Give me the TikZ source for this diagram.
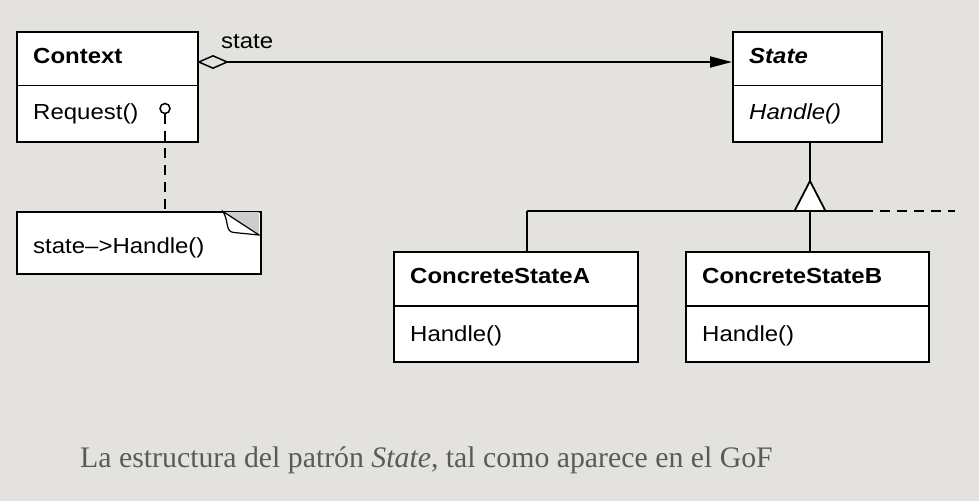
\documentclass[tikz,border=0pt]{standalone}
\usepackage{fontspec}
\usetikzlibrary{arrows.meta,calc}
\newfontfamily\umlfont{Liberation Sans}[FakeStretch=1.1]
\newfontfamily\capfont{Liberation Serif}
\definecolor{bgc}{RGB}{227,226,222}
\definecolor{capc}{RGB}{90,90,90}
\definecolor{foldc}{RGB}{205,205,205}
\begin{document}
\begin{tikzpicture}[x=1pt,y=-1pt,
  umlbox/.style={draw,line width=1.8pt,fill=white,anchor=north west,inner sep=0pt},
  umltext/.style={anchor=base west,inner sep=0pt,font=\umlfont\fontsize{21.8}{25}\selectfont},
  conn/.style={line width=1.8pt},
  dashconn/.style={line width=1.8pt,dash pattern=on 10pt off 7pt}]
\fill[bgc] (0,0) rectangle (979,501);
\useasboundingbox (0,0) rectangle (979,501);

% Context
\node[umlbox,minimum width=181pt,minimum height=110pt] (ctx) at (16,31) {};
\draw[conn] (16,85.5) -- (197,85.5);
\node[umltext] (ctxname) at (33,63) {\bfseries Context};
\node[umltext] (ctxop) at (33,119) {Request()};
\node[circle,draw,line width=1.5pt,minimum size=10pt,inner sep=0pt] (port) at (165,108.5) {};

% State
\node[umlbox,minimum width=149pt,minimum height=110pt] (st) at (732,31) {};
\draw[conn] (732,85.5) -- (881,85.5);
\node[umltext] (stname) at (749,63) {\bfseries\itshape State};
\node[umltext] (stop) at (749,119) {\itshape Handle()};

% ConcreteStateA
\node[umlbox,minimum width=244pt,minimum height=110pt] (csa) at (393,251) {};
\draw[conn] (393,306) -- (637,306);
\node[umltext] (csaname) at (410,283) {\bfseries ConcreteStateA};
\node[umltext] (csaop) at (410,341) {Handle()};

% ConcreteStateB
\node[umlbox,minimum width=243pt,minimum height=110pt] (csb) at (685,251) {};
\draw[conn] (685,306) -- (928,306);
\node[umltext] (csbname) at (702,283) {\bfseries ConcreteStateB};
\node[umltext] (csbop) at (702,341) {Handle()};

% Note
\node[umlbox,minimum width=244pt,minimum height=62pt] (note) at (16,211) {};
\fill[foldc] (223,212) -- (259,212) -- (259,235) -- cycle;
\draw[line width=1.2pt,fill=white] (223,211.5) .. controls (229,221) and (225,232) .. (234,232.5) -- (259,235) -- cycle;
\node[umltext] (notetext) at (33,253) {state\textendash{}>Handle()};

% aggregation association
\coordinate (aggS) at (197,62);
\coordinate (aggT) at (732,62);
\draw[conn,{Diamond[open,length=32pt,width=14pt,line width=1.5pt]}-{Triangle[length=22pt,width=11pt]}] (aggS) -- (aggT);
\node[umltext] (rolelbl) at (221,48) {state};

% note link
\draw[dashconn] (port.south) -- (port.south |- note.north);

% generalization
\coordinate (gtip) at (810,181);
\coordinate (gbase) at (810,211);
\coordinate (busL) at (527,211);
\coordinate (busR) at (873,211);
\coordinate (busD) at (955,211);
\draw[conn] (gtip |- st.south) -- (gtip);
\draw[conn] (busL) -- (busR);
\draw[dashconn] (880,211) -- (busD);
\draw[conn] (busL) -- (busL |- csa.north);
\draw[conn] (gbase) -- (gbase |- csb.north);
\draw[line width=1.8pt,fill=white,line join=miter] (gtip) -- (825.5,211) -- (794.5,211) -- cycle;

% caption
\node[anchor=base west,inner sep=0pt,text=capc,font=\capfont\fontsize{29.8}{34}\selectfont] (caption) at (80,467) {La estructura del patrón \textit{State}, tal como aparece en el GoF};
\end{tikzpicture}
\end{document}
